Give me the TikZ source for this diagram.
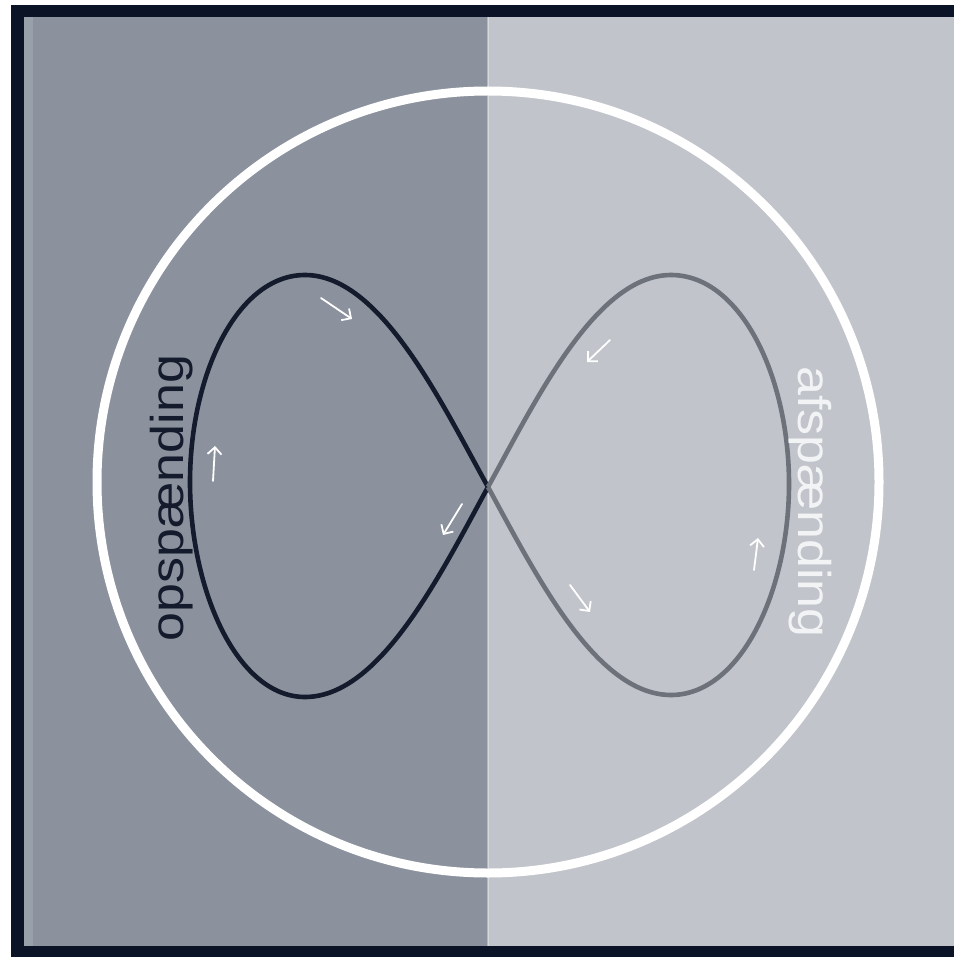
\documentclass[tikz,border=0pt]{standalone}
\usepackage{fontspec}
\setmainfont{Liberation Sans}
\usetikzlibrary{arrows.meta}
\definecolor{frameC}{HTML}{0B1427}
\definecolor{leftBg}{HTML}{8B929D}
\definecolor{leftBgB}{HTML}{98A0AA}
\definecolor{rightBg}{HTML}{C1C4CA}
\definecolor{lobeL}{HTML}{131B2C}
\definecolor{lobeR}{HTML}{6C717A}
\definecolor{txtW}{HTML}{F2F3F5}
\tikzset{
  lobeline/.style={line width=4.6pt, line join=round},
  flowarrow/.style={draw=white, line width=1.8pt, line cap=round, -{Straight Barb[length=7pt, width=14pt, line width=1.8pt]}},
  labeltext/.style={font=\fontsize{46}{50}\selectfont, inner sep=0pt, anchor=base}
}
\begin{document}
\begin{tikzpicture}[x=1pt, y=-1pt]
\useasboundingbox (0,0) rectangle (954,957);
\fill[white] (0,0) rectangle (954,957);
% backgrounds
\fill[frameC] (11,5) rectangle (954,957);
\fill[leftBg] (24,17) rectangle (488,946);
\fill[leftBgB] (24,17) rectangle (33,946);
\fill[rightBg] (488,17) rectangle (954,946);
\draw[white, opacity=0.35, line width=1.5pt] (488,17) -- (488,946);
% circle
\node[draw=white, line width=9pt, circle, minimum size=782pt, inner sep=0pt] (ring) at (488,482) {};
% crossing point
\coordinate (X) at (488,487);
% left lobe
\coordinate (LT) at (305,275);
\coordinate (LL) at (190,482);
\coordinate (LB) at (305,697);
\draw[lobeline, lobeL] (X) .. controls (440,400) and (380,275) .. (LT)
  .. controls (237,275) and (190,375) .. (LL)
  .. controls (190,590) and (237,697) .. (LB)
  .. controls (380,697) and (440,575) .. (X);
% right lobe
\coordinate (RT) at (671,275);
\coordinate (RR) at (789,484);
\coordinate (RB) at (671,695);
\draw[lobeline, lobeR] (X) .. controls (536,400) and (596,275) .. (RT)
  .. controls (741,275) and (789,377) .. (RR)
  .. controls (789,590) and (741,695) .. (RB)
  .. controls (596,695) and (536,575) .. (X);
% arrows
\coordinate (a1s) at (321,298); \coordinate (a1e) at (352,319);
\coordinate (a2s) at (213,481); \coordinate (a2e) at (215,446);
\coordinate (a3s) at (462,504); \coordinate (a3e) at (443,535);
\coordinate (a4s) at (610,340); \coordinate (a4e) at (587,362);
\coordinate (a5s) at (754,570); \coordinate (a5e) at (758,538);
\coordinate (a6s) at (570,585); \coordinate (a6e) at (590,612);
\draw[flowarrow] (a1s) -- (a1e);
\draw[flowarrow] (a2s) -- (a2e);
\draw[flowarrow] (a3s) -- (a3e);
\draw[flowarrow] (a4s) -- (a4e);
\draw[flowarrow] (a5s) -- (a5e);
\draw[flowarrow] (a6s) -- (a6e);
% labels
\node[labeltext, text=lobeL, rotate=90] (op) at (183,498) {\scalebox{1.13}[1]{opspænding}};
\node[labeltext, text=txtW, rotate=-90] (af) at (798,502) {\scalebox{1.13}[1]{afspænding}};
\end{tikzpicture}
\end{document}
